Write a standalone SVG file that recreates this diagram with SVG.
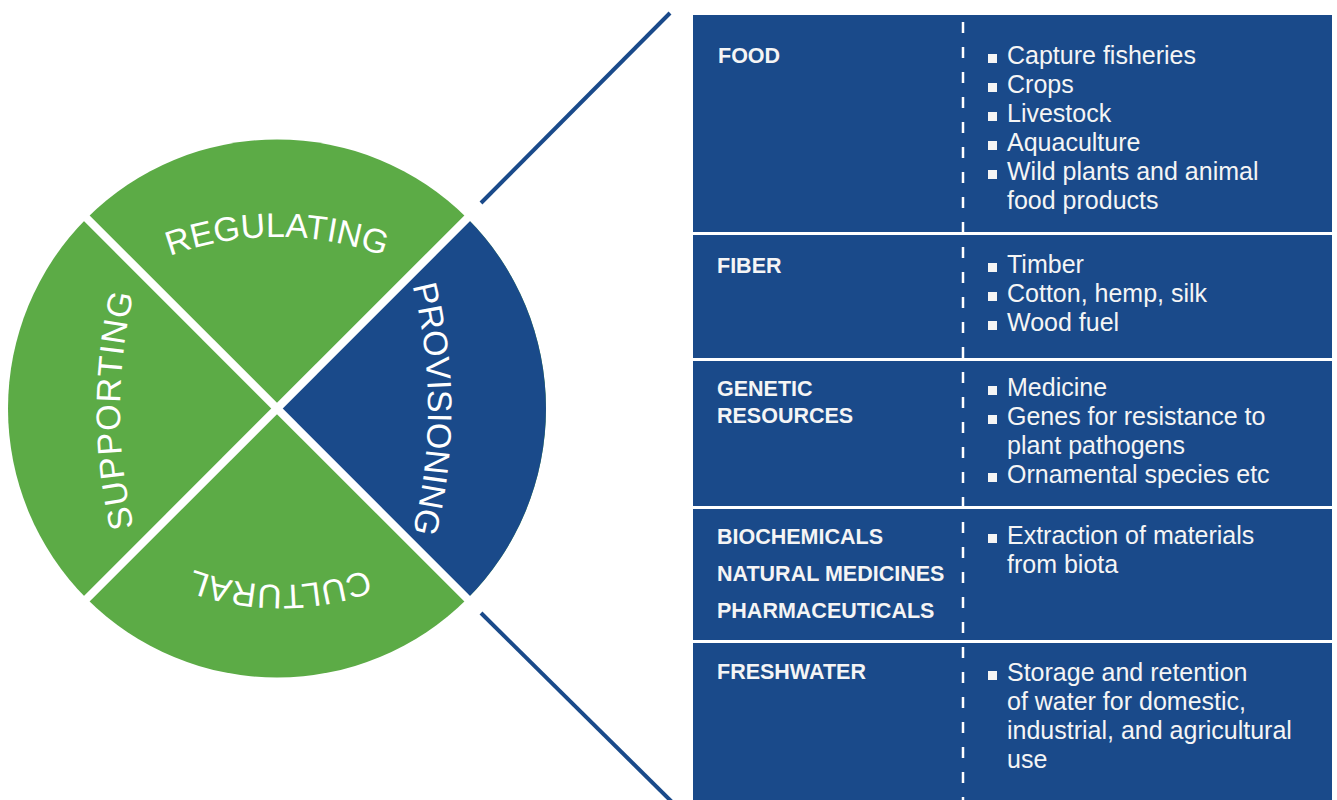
<svg xmlns="http://www.w3.org/2000/svg" width="1337" height="800" viewBox="0 0 1337 800">
<style>
.green{fill:#5cab46}
.blue{fill:#1a4a8a}
.arc{font-family:"Liberation Sans",Arial,sans-serif;font-size:34px;fill:#ffffff}
.lbl{font-family:"Liberation Sans",Arial,sans-serif;font-size:21.5px;font-weight:bold;fill:#f5f5f5}
.itm{font-family:"Liberation Sans",Arial,sans-serif;font-size:25px;fill:#f5f5f5}
.sq{fill:#f5f5f5}
.sep{fill:#ffffff}
.conn{stroke:#1a4a8a;stroke-width:4;fill:none}
</style>
<defs>
<path id="pTop" d="M 77.7 309.5 A 310 310 0 0 1 476.3 309.5"/>
<path id="pLeft" d="M 144.5 564.5 A 500 500 0 0 1 144.5 255.5"/>
<path id="pRight" d="M 403.5 254.5 A 500 500 0 0 1 403.5 563.5"/>
<path id="pBottom" d="M 440.7 526.5 A 250 250 0 0 1 119.3 526.5"/>
</defs>
<rect width="1337" height="800" fill="#ffffff"/>

<g id="wheel">
<circle class="green" cx="277" cy="408.5" r="269"/>
<path class="blue" d="M 277 408.5 L 467.2 218.3 A 269 269 0 0 1 467.2 598.7 Z"/>
<line x1="67" y1="198.5" x2="487" y2="618.5" stroke="#ffffff" stroke-width="8"/>
<line x1="67" y1="618.5" x2="487" y2="198.5" stroke="#ffffff" stroke-width="8"/>
</g>
<g id="regulating"><text class="arc" text-anchor="middle"><textPath href="#pTop" startOffset="50%">REGULATING</textPath></text></g>
<g id="supporting"><text class="arc" text-anchor="middle" letter-spacing="1.2"><textPath href="#pLeft" startOffset="50%">SUPPORTING</textPath></text></g>
<g id="provisioning"><text class="arc" text-anchor="middle"><textPath href="#pRight" startOffset="50%">PROVISIONING</textPath></text></g>
<g id="cultural"><text class="arc" text-anchor="middle"><textPath href="#pBottom" startOffset="50%">CULTURAL</textPath></text></g>

<g id="connectors">
<line class="conn" x1="481" y1="203" x2="670" y2="13"/>
<line class="conn" x1="481" y1="613" x2="672" y2="802"/>
</g>

<g id="table">
<rect class="blue" x="693" y="15" width="639" height="790"/>
<rect class="sep" x="693" y="232" width="639" height="3"/>
<rect class="sep" x="693" y="358" width="639" height="3"/>
<rect class="sep" x="693" y="506" width="639" height="3"/>
<rect class="sep" x="693" y="640" width="639" height="3"/>
<line x1="963" y1="22" x2="963" y2="800" stroke="#ffffff" stroke-width="2.5" stroke-dasharray="11 14"/>
</g>

<g id="row-food">
<text class="lbl" x="718" y="63">FOOD</text>
<rect class="sq" x="988" y="54" width="9" height="9"/><text class="itm" x="1007" y="64">Capture fisheries</text>
<rect class="sq" x="988" y="83" width="9" height="9"/><text class="itm" x="1007" y="93">Crops</text>
<rect class="sq" x="988" y="112" width="9" height="9"/><text class="itm" x="1007" y="122">Livestock</text>
<rect class="sq" x="988" y="141" width="9" height="9"/><text class="itm" x="1007" y="151">Aquaculture</text>
<rect class="sq" x="988" y="170" width="9" height="9"/><text class="itm" x="1007" y="180">Wild plants and animal</text>
<text class="itm" x="1007" y="209">food products</text>
</g>

<g id="row-fiber">
<text class="lbl" x="717" y="273">FIBER</text>
<rect class="sq" x="988" y="263" width="9" height="9"/><text class="itm" x="1007" y="273">Timber</text>
<rect class="sq" x="988" y="292" width="9" height="9"/><text class="itm" x="1007" y="302">Cotton, hemp, silk</text>
<rect class="sq" x="988" y="321" width="9" height="9"/><text class="itm" x="1007" y="331">Wood fuel</text>
</g>

<g id="row-genetic">
<text class="lbl" x="717" y="396">GENETIC</text>
<text class="lbl" x="717" y="423">RESOURCES</text>
<rect class="sq" x="988" y="386" width="9" height="9"/><text class="itm" x="1007" y="396">Medicine</text>
<rect class="sq" x="988" y="415" width="9" height="9"/><text class="itm" x="1007" y="425">Genes for resistance to</text>
<text class="itm" x="1007" y="454">plant pathogens</text>
<rect class="sq" x="988" y="473" width="9" height="9"/><text class="itm" x="1007" y="483">Ornamental species etc</text>
</g>

<g id="row-biochemicals">
<text class="lbl" x="717" y="544">BIOCHEMICALS</text>
<text class="lbl" x="717" y="581">NATURAL MEDICINES</text>
<text class="lbl" x="717" y="618">PHARMACEUTICALS</text>
<rect class="sq" x="988" y="534" width="9" height="9"/><text class="itm" x="1007" y="544">Extraction of materials</text>
<text class="itm" x="1007" y="573">from biota</text>
</g>

<g id="row-freshwater">
<text class="lbl" x="717" y="679">FRESHWATER</text>
<rect class="sq" x="988" y="671" width="9" height="9"/><text class="itm" x="1007" y="681">Storage and retention</text>
<text class="itm" x="1007" y="710">of water for domestic,</text>
<text class="itm" x="1007" y="739">industrial, and agricultural</text>
<text class="itm" x="1007" y="768">use</text>
</g>
</svg>
